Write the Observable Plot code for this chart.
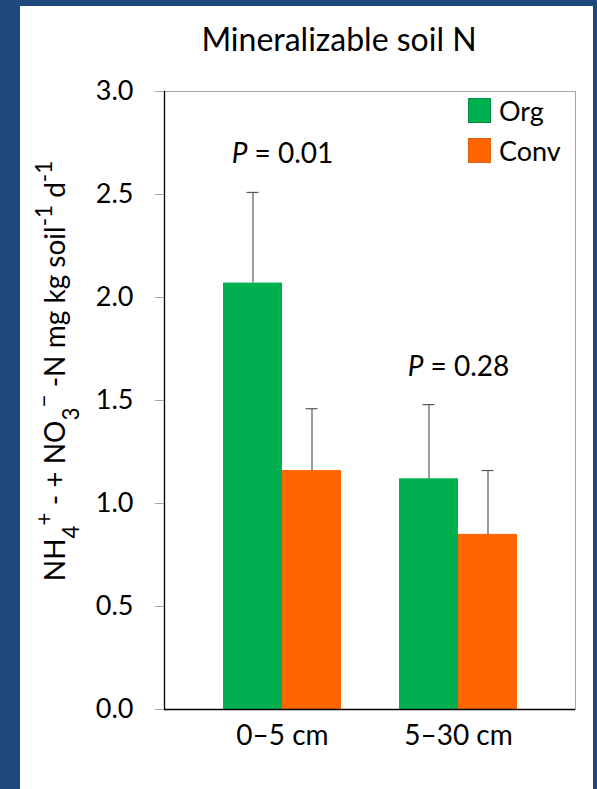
<!DOCTYPE html>
<html><head><meta charset="utf-8">
<script src="https://cdn.jsdelivr.net/npm/d3@7"></script>
<script src="https://cdn.jsdelivr.net/npm/@observablehq/plot@0.6"></script>
<style>
html,body{margin:0;padding:0;background:#1f497d;width:597px;height:789px;overflow:hidden;font-family:Lato,sans-serif}
#panel{position:absolute;left:20px;top:6px;width:573px;height:783px;background:#fff}
#title{position:absolute;left:139px;top:23px;width:400px;text-align:center;font-size:32px;line-height:1;color:#000;white-space:nowrap}
#chart{position:absolute;left:0;top:0}
#legend{position:absolute;left:468px;top:97px;font-size:27px;color:#000}
.item{display:flex;align-items:center;height:26px;margin-bottom:14px}
.sw{width:23px;height:25px;margin-right:8px;box-sizing:border-box}
</style></head>
<body>
<div id="panel"></div>
<div id="chart"></div>
<div id="title">Mineralizable soil N</div>
<div id="legend"></div>
<script>
const depths = ["0–5 cm", "5–30 cm"];
const treatments = ["Org", "Conv"];
const orgMean = [2.07, 1.12];
const convMean = [1.16, 0.85];
const orgSE = [0.44, 0.36];
const convSE = [0.30, 0.31];
const pValues = ["0.01", "0.28"];
const yTicks = [0, 0.5, 1, 1.5, 2, 2.5, 3];
const colors = ["#00B050", "#FF6600"];
const borders = ["#0a8a44", "#d9600f"];

const rows = depths.flatMap((d, i) => [
  {depth: d, trt: "Org", mean: orgMean[i], se: orgSE[i]},
  {depth: d, trt: "Conv", mean: convMean[i], se: convSE[i]}
]);
const org = rows.filter(r => r.trt === "Org");
const conv = rows.filter(r => r.trt === "Conv");
const pRows = depths.map((d, i) => ({depth: d, p: pValues[i], top: orgMean[i] + orgSE[i]}));

const xRange = [223, 517];
const padIn = 58 / 176;
const step = (xRange[1] - xRange[0]) / (2 - padIn);
const bw = step * (1 - padIn);
const cap = 6;
const errColor = "#595959";

const chart = Plot.plot({
  width: 597, height: 789,
  marginLeft: 164, marginRight: 22, marginTop: 91, marginBottom: 80,
  style: {background: "transparent", fontFamily: "Lato, sans-serif", overflow: "visible", color: "#000"},
  x: {type: "band", domain: depths, range: xRange, paddingInner: padIn, paddingOuter: 0, align: 0.5},
  y: {domain: [0, 3]},
  marks: [
    Plot.frame({stroke: "#a6a6a6"}),
    Plot.barY(org, {x: "depth", y: "mean", fill: colors[0], insetRight: bw / 2}),
    Plot.barY(conv, {x: "depth", y: "mean", fill: colors[1], insetLeft: bw / 2}),
    Plot.ruleX(org, {x: "depth", y1: "mean", y2: d => d.mean + d.se, dx: -bw / 4, stroke: errColor, strokeWidth: 1.2}),
    Plot.ruleX(conv, {x: "depth", y1: "mean", y2: d => d.mean + d.se, dx: bw / 4, stroke: errColor, strokeWidth: 1.2}),
    Plot.tickY(org, {x: "depth", y: d => d.mean + d.se, insetLeft: bw / 4 - cap, insetRight: bw * 3 / 4 - cap, stroke: errColor, strokeWidth: 1.2}),
    Plot.tickY(conv, {x: "depth", y: d => d.mean + d.se, insetLeft: bw * 3 / 4 - cap, insetRight: bw / 4 - cap, stroke: errColor, strokeWidth: 1.2}),
    Plot.text(pRows, {x: "depth", y: "top", text: d => `P = ${d.p}`, dy: -38, fontSize: 28, fill: "#000"}),
    Plot.ruleY([0], {stroke: "#000", strokeWidth: 1.3}),
    Plot.frame({anchor: "left", stroke: "#000", strokeWidth: 1.3}),
    Plot.axisY({ticks: yTicks, tickFormat: d3.format(".1f"), tickSize: 9, tickPadding: 22, stroke: "#a6a6a6", fill: "#000", fontSize: 27, label: null}),
    Plot.axisX({tickSize: 0, tickPadding: 16, fontSize: 28, fill: "#000", label: null})
  ]
});
document.getElementById("chart").appendChild(chart);

const svg = d3.select(chart);
// italic P in annotations
svg.selectAll('g[aria-label="text"] text').each(function() {
  const t = d3.select(this);
  const txt = t.text();
  if (!txt.startsWith("P")) return;
  t.text(null);
  t.append("tspan").attr("font-style", "italic").text("P");
  t.append("tspan").text(txt.slice(1));
});

// y-axis label with sub/superscripts
const yl = svg.append("text")
  .attr("transform", "translate(65,371) rotate(-90)")
  .attr("text-anchor", "middle")
  .attr("font-size", 28)
  .attr("fill", "#000");
const parts = [
  ["NH", null], ["4", "sub"], ["+", "super"], [" - + NO", null], ["3", "sub"], ["−", "super"],
  [" -N mg kg soil", null], ["-1", "super"], [" d", null], ["-1", "super"]
];
for (const [s, shift] of parts) {
  const ts = yl.append("tspan").text(s);
  if (shift) ts.attr("baseline-shift", shift).attr("font-size", "80%");
}

// legend
const lg = d3.select("#legend");
treatments.forEach((t, i) => {
  const it = lg.append("div").attr("class", "item");
  it.append("div").attr("class", "sw").style("background", colors[i]).style("border", `1px solid ${borders[i]}`);
  it.append("span").text(t);
});
</script>
</body></html>
